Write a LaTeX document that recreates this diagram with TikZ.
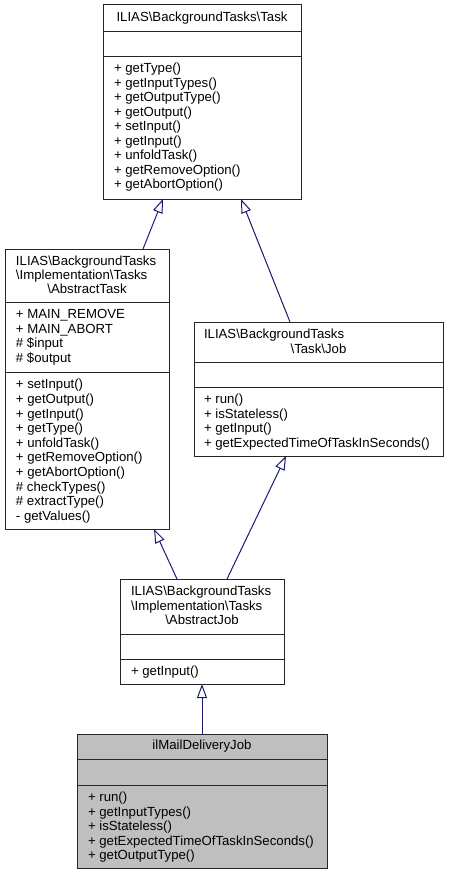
\documentclass[tikz,border=0pt]{standalone}
\usepackage{fontspec}
\setmainfont{Liberation Sans}
\usetikzlibrary{arrows.meta}
\definecolor{edgeblue}{RGB}{25,25,112}
\definecolor{hlgray}{RGB}{191,191,191}
\newcommand\bsl{\textbackslash}
\begin{document}
\begin{tikzpicture}[x=1pt,y=-1pt,
  classbox/.style={draw=black!85, line width=1pt, inner sep=0pt, outer sep=0pt, anchor=north west},
  divider/.style={draw=black!85, line width=1pt},
  txt/.style={font=\fontsize{13.2}{14.5}\selectfont, inner sep=0pt, outer sep=0pt},
  lt/.style={txt, anchor=base west},
  ct/.style={txt, anchor=base},
  inh/.style={draw=edgeblue, line width=1pt, -{Triangle[open, length=14pt, width=10pt]}}]
\useasboundingbox (0,0) rectangle (448,875);

% ---- Task
\node[classbox, minimum width=198pt, minimum height=194pt] (task) at (103,5) {};
\draw[divider] (task.west |- 0,32) -- (task.east |- 0,32);
\draw[divider] (task.west |- 0,57) -- (task.east |- 0,57);
\node[ct] (task-t) at (202,22) {ILIAS\bsl BackgroundTasks\bsl Task};
\foreach \t [count=\i from 0] in {getType(),getInputTypes(),getOutputType(),getOutput(),setInput(),getInput(),unfoldTask(),getRemoveOption(),getAbortOption()}
  \node[lt] (task-m\i) at (114,{72.7+14.5*\i}) {+ \t};

% ---- AbstractTask
\node[classbox, minimum width=164pt, minimum height=280pt] (atask) at (5,249) {};
\draw[divider] (atask.west |- 0,302.3) -- (atask.east |- 0,302.3);
\draw[divider] (atask.west |- 0,372.3) -- (atask.east |- 0,372.3);
\node[lt] (atask-t1) at (16,265) {ILIAS\bsl BackgroundTasks};
\node[lt] (atask-t2) at (16,279.4) {\bsl Implementation\bsl Tasks};
\node[ct] (atask-t3) at (87,293.8) {\bsl AbstractTask};
\foreach \t [count=\i from 0] in {+ MAIN\_REMOVE,+ MAIN\_ABORT,\# \$input,\# \$output}
  \node[lt] (atask-a\i) at (16,{318.5+14.5*\i}) {\t};
\foreach \t [count=\i from 0] in {+ setInput(),+ getOutput(),+ getInput(),+ getType(),+ unfoldTask(),+ getRemoveOption(),+ getAbortOption(),\# checkTypes(),\# extractType(),- getValues()}
  \node[lt] (atask-m\i) at (16,{388.8+14.6*\i}) {\t};

% ---- Job
\node[classbox, minimum width=249pt, minimum height=134pt] (job) at (194,322) {};
\draw[divider] (job.west |- 0,362) -- (job.east |- 0,362);
\draw[divider] (job.west |- 0,387) -- (job.east |- 0,387);
\node[lt] (job-t1) at (204,338.5) {ILIAS\bsl BackgroundTasks};
\node[ct] (job-t2) at (318.5,353) {\bsl Task\bsl Job};
\foreach \t [count=\i from 0] in {run(),isStateless(),getInput(),getExpectedTimeOfTaskInSeconds()}
  \node[lt] (job-m\i) at (204,{403.5+14.5*\i}) {+ \t};

% ---- AbstractJob
\node[classbox, minimum width=164pt, minimum height=105pt] (ajob) at (120,579) {};
\draw[divider] (ajob.west |- 0,634) -- (ajob.east |- 0,634);
\draw[divider] (ajob.west |- 0,659) -- (ajob.east |- 0,659);
\node[lt] (ajob-t1) at (131,595.5) {ILIAS\bsl BackgroundTasks};
\node[lt] (ajob-t2) at (131,610) {\bsl Implementation\bsl Tasks};
\node[ct] (ajob-t3) at (202,624.5) {\bsl AbstractJob};
\node[lt] (ajob-m0) at (131,675.5) {+ getInput()};

% ---- ilMailDeliveryJob
\node[classbox, fill=hlgray, minimum width=250pt, minimum height=134pt] (mail) at (77,734) {};
\draw[divider] (mail.west |- 0,759) -- (mail.east |- 0,759);
\draw[divider] (mail.west |- 0,785) -- (mail.east |- 0,785);
\node[ct] (mail-t) at (202,749.5) {ilMailDeliveryJob};
\foreach \t [count=\i from 0] in {run(),getInputTypes(),isStateless(),getExpectedTimeOfTaskInSeconds(),getOutputType()}
  \node[lt] (mail-m\i) at (88,{801.5+14.5*\i}) {+ \t};

% ---- inheritance edges
\draw[inh] (atask.north -| 143,0) -- (task.south -| 163,0);
\draw[inh] (job.north -| 290,0) -- (task.south -| 241,0);
\draw[inh] (ajob.north -| 177,0) -- (atask.south -| 154,0);
\draw[inh] (ajob.north -| 227,0) -- (job.south -| 286,0);
\draw[inh] (mail.north -| 202,0) -- (ajob.south -| 202,0);
\end{tikzpicture}
\end{document}
